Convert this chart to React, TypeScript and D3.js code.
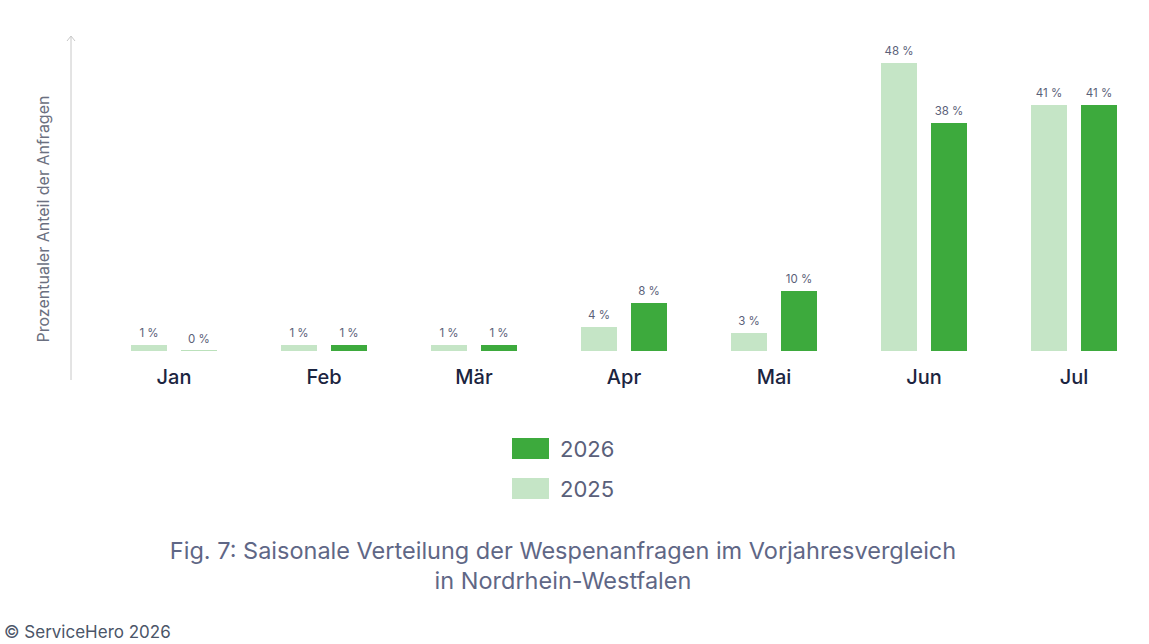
import React, { useEffect, useRef } from "react";
import * as d3 from "d3";

const months = ["Jan", "Feb", "Mär", "Apr", "Mai", "Jun", "Jul"];
const years = ["2025", "2026"];
const values2025 = [1, 1, 1, 4, 3, 48, 41];
const values2026 = [0, 1, 1, 8, 10, 38, 41];
const legendYears = ["2026", "2025"];

const colors: Record<string, string> = { "2025": "#c5e5c6", "2026": "#3daa3d" };
const FONT = "Inter, 'Noto Sans', sans-serif";

export default function App() {
  const ref = useRef<SVGSVGElement | null>(null);

  useEffect(() => {
    const svg = d3.select(ref.current as any);
    svg.selectAll("*").remove();
    const width = 1149;
    const height = 644;

    const x0 = d3.scaleBand().domain(months).range([99, 1149]).padding(0);
    const x1 = d3.scaleBand().domain(years).range([32, 118]).paddingInner(0.28);
    const y = d3.scaleLinear().domain([0, 48]).range([351, 63]);

    // y axis line with arrow
    svg.append("line")
      .attr("x1", 71).attr("x2", 71)
      .attr("y1", 37).attr("y2", 380)
      .attr("stroke", "#c8c8c8").attr("stroke-width", 1);
    svg.append("path")
      .attr("d", "M67,41 L71,36 L75,41")
      .attr("fill", "none").attr("stroke", "#c8c8c8").attr("stroke-width", 1);

    svg.append("text")
      .attr("transform", `translate(49,219) rotate(-90)`)
      .attr("text-anchor", "middle")
      .attr("fill", "#6b7080")
      .style("font-family", FONT)
      .style("font-size", "16px")
      .text("Prozentualer Anteil  der Anfragen");

    const data = months.map((m, i) => ({ month: m, "2025": values2025[i], "2026": values2026[i] }));

    const groups = svg.selectAll(".grp").data(data).enter().append("g")
      .attr("transform", d => `translate(${x0(d.month)},0)`);

    groups.selectAll("rect")
      .data(d => years.map(k => ({ key: k, value: (d as any)[k] as number })))
      .enter().append("rect")
      .attr("x", d => x1(d.key) || 0)
      .attr("width", x1.bandwidth())
      .attr("y", d => (d.value === 0 ? y(0) - 1 : y(d.value)))
      .attr("height", d => (d.value === 0 ? 1 : y(0) - y(d.value)))
      .attr("fill", d => colors[d.key])
      .attr("opacity", d => (d.value === 0 ? 0.35 : 1));

    groups.selectAll(".val")
      .data(d => years.map(k => ({ key: k, value: (d as any)[k] as number })))
      .enter().append("text")
      .attr("x", d => (x1(d.key) || 0) + x1.bandwidth() / 2)
      .attr("y", d => y(d.value) - 8)
      .attr("text-anchor", "middle")
      .attr("fill", "#5a6078")
      .style("font-family", FONT)
      .style("font-size", "11.5px")
      .text(d => `${d.value} %`);

    // month labels
    svg.selectAll(".mlab").data(months).enter().append("text")
      .attr("x", d => (x0(d) || 0) + x0.bandwidth() / 2)
      .attr("y", 384)
      .attr("text-anchor", "middle")
      .attr("fill", "#1b2440")
      .style("font-family", FONT)
      .style("font-size", "20px")
      .style("font-weight", 500)
      .text(d => d);

    // legend
    const legend = svg.append("g").attr("transform", "translate(512,438)");
    legend.selectAll("g").data(legendYears).enter().append("g")
      .attr("transform", (d, i) => `translate(0,${i * 40})`)
      .call(g => {
        g.append("rect").attr("width", 37).attr("height", 21).attr("fill", d => colors[d]);
        g.append("text").attr("x", 48).attr("y", 19)
          .attr("fill", "#5a607a")
          .style("font-family", FONT)
          .style("font-size", "22px")
          .text(d => d);
      });

    // caption
    const cap = svg.append("text")
      .attr("text-anchor", "middle")
      .attr("fill", "#5f6786")
      .style("font-family", FONT)
      .style("font-size", "23.5px");
    cap.append("tspan").attr("x", 563).attr("y", 559)
      .text("Fig. 7: Saisonale Verteilung der Wespenanfragen im Vorjahresvergleich");
    cap.append("tspan").attr("x", 563).attr("y", 589).text("in Nordrhein-Westfalen");

    svg.append("text")
      .attr("x", 4).attr("y", 638)
      .attr("fill", "#4b5568")
      .style("font-family", FONT)
      .style("font-size", "17px")
      .text("© ServiceHero 2026");

    svg.attr("viewBox", `0 0 ${width} ${height}`);
  }, []);

  return (
    <svg
      ref={ref}
      width={1149}
      height={644}
      style={{ position: "absolute", left: 0, top: 0, background: "#fff" }}
    />
  );
}
